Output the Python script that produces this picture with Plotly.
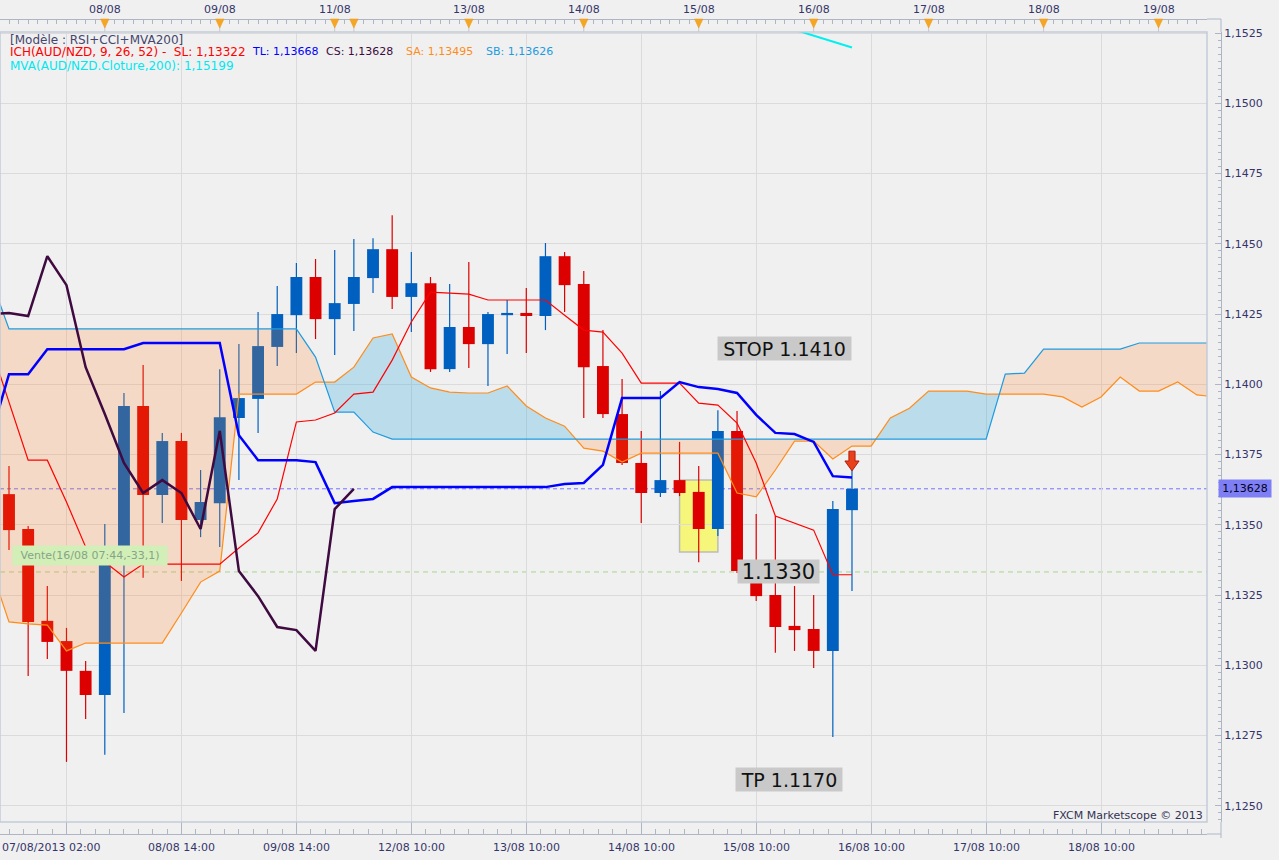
import plotly.graph_objects as go

# ---------------- data (AUD/NZD, 4h candles) ----------------
idx = list(range(45))
open_ = [1.13609, 1.13485, 1.13158, 1.13086, 1.12980, 1.12894, 1.13357, 1.13923, 1.13606, 1.13798,
         1.13517, 1.13577, 1.13880, 1.13948, 1.14133, 1.14246, 1.14382, 1.14232, 1.14286, 1.14378,
         1.14481, 1.14311, 1.14360, 1.14054, 1.14204, 1.14143, 1.14246, 1.14254, 1.14243, 1.14456,
         1.14357, 1.14065, 1.13894, 1.13720, 1.13613, 1.13659, 1.13617, 1.13485, 1.13834, 1.13335,
         1.13250, 1.13140, 1.13129, 1.13051, 1.13552]
high = [1.13709, 1.13496, 1.13282, 1.13133, 1.13015, 1.13503, 1.13969, 1.14069, 1.13827, 1.13827,
        1.13695, 1.14054, 1.14143, 1.14257, 1.14350, 1.14432, 1.14446, 1.14478, 1.14517, 1.14520,
        1.14602, 1.14471, 1.14382, 1.14357, 1.14435, 1.14257, 1.14300, 1.14343, 1.14503, 1.14471,
        1.14403, 1.14193, 1.14019, 1.13834, 1.13976, 1.13795, 1.13709, 1.13908, 1.13905, 1.13538,
        1.13531, 1.13282, 1.13250, 1.13585, 1.13698]
low = [1.13410, 1.12962, 1.13022, 1.12656, 1.12809, 1.12681, 1.12830, 1.13311, 1.13506, 1.13300,
       1.13456, 1.13421, 1.13659, 1.13827, 1.14065, 1.14111, 1.14161, 1.14104, 1.14190, 1.14325,
       1.14268, 1.14186, 1.14044, 1.14044, 1.14058, 1.13994, 1.14108, 1.14111, 1.14193, 1.14257,
       1.13880, 1.13880, 1.13713, 1.13506, 1.13599, 1.13602, 1.13367, 1.13460, 1.13328, 1.13229,
       1.13044, 1.13051, 1.12990, 1.12745, 1.13264]
close = [1.13481, 1.13154, 1.13083, 1.12980, 1.12894, 1.13357, 1.13923, 1.13606, 1.13798, 1.13517,
         1.13581, 1.13883, 1.13951, 1.14136, 1.14250, 1.14382, 1.14232, 1.14289, 1.14382, 1.14481,
         1.14311, 1.14360, 1.14054, 1.14204, 1.14143, 1.14250, 1.14254, 1.14243, 1.14456, 1.14353,
         1.14061, 1.13894, 1.13720, 1.13613, 1.13659, 1.13613, 1.13485, 1.13834, 1.13335, 1.13246,
         1.13136, 1.13125, 1.13051, 1.13556, 1.13628]

# Ichimoku lines
line_x = list(range(-1, 45))
tenkan = [1.13802, 1.14036, 1.14036, 1.14125, 1.14125, 1.14125, 1.14125, 1.14125, 1.14147, 1.14147,
          1.14147, 1.14147, 1.14147, 1.13819, 1.13730, 1.13730, 1.13730, 1.13723, 1.13577, 1.13585,
          1.13592, 1.13634, 1.13634, 1.13634, 1.13634, 1.13634, 1.13634, 1.13634, 1.13634, 1.13634,
          1.13645, 1.13649, 1.13713, 1.13951, 1.13951, 1.13951, 1.14008, 1.13990, 1.13983, 1.13969,
          1.13891, 1.13827, 1.13823, 1.13795, 1.13673, 1.13668]
kijun = [1.14143, 1.13937, 1.13730, 1.13730, 1.13581, 1.13421, 1.13367, 1.13314, 1.13360, 1.13360,
         1.13360, 1.13360, 1.13360, 1.13417, 1.13471, 1.13592, 1.13866, 1.13873, 1.13898, 1.13965,
         1.13972, 1.14086, 1.14222, 1.14328, 1.14325, 1.14321, 1.14300, 1.14300, 1.14300, 1.14300,
         1.14246, 1.14193, 1.14186, 1.14111, 1.14004, 1.14004, 1.14004, 1.13933, 1.13926, 1.13862,
         1.13720, 1.13531, 1.13506, 1.13481, 1.13322, 1.13322]

span_x = list(range(-1, 64))
senkou_a = [1.13357, 1.13154, 1.13147, 1.13143, 1.13051, 1.13079, 1.13079, 1.13079, 1.13079, 1.13079,
            1.13186, 1.13296, 1.13335, 1.13965, 1.13965, 1.13965, 1.13965, 1.14008, 1.14008, 1.14061,
            1.14165, 1.14179, 1.14026, 1.13987, 1.13972, 1.13969, 1.13969, 1.13994, 1.13923, 1.13880,
            1.13851, 1.13773, 1.13762, 1.13723, 1.13755, 1.13755, 1.13755, 1.13755, 1.13755, 1.13613,
            1.13599, 1.13695, 1.13798, 1.13798, 1.13734, 1.13780, 1.13780, 1.13880, 1.13915, 1.13976,
            1.13976, 1.13976, 1.13965, 1.13965, 1.13965, 1.13965, 1.13955, 1.13919, 1.13955, 1.14026,
            1.13976, 1.13976, 1.14008, 1.13962, 1.13955]
senkou_b = [1.14385] + [1.14197] * 16 + [1.14097, 1.13901, 1.13901, 1.13830] + [1.13805] * 32 + \
           [1.14036, 1.14040] + [1.14125] * 5 + [1.14147] * 5

chikou_x = list(range(-1, 19))
chikou = [1.14250, 1.14254, 1.14243, 1.14456, 1.14353, 1.14061, 1.13894, 1.13720, 1.13613, 1.13659,
          1.13613, 1.13485, 1.13834, 1.13335, 1.13246, 1.13136, 1.13125, 1.13051, 1.13556, 1.13628]

mva_x = [40, 41, 42, 43, 44]
mva200 = [1.15283, 1.15262, 1.15241, 1.15220, 1.15199]

last_price = 1.13628
entry_price = 1.13332

bottom_tick_idx = [3, 9, 15, 21, 27, 33, 39, 45, 51, 57]
bottom_labels = ["07/08/2013 02:00", "08/08 14:00", "09/08 14:00", "12/08 10:00", "13/08 10:00",
                 "14/08 10:00", "15/08 10:00", "16/08 10:00", "17/08 10:00", "18/08 10:00"]
top_label_idx = [5, 11, 17, 24, 30, 36, 42, 48, 54, 60]
top_labels = ["08/08", "09/08", "11/08", "13/08", "14/08", "15/08", "16/08", "17/08", "18/08", "19/08"]
marker_idx = [5, 11, 17, 18, 24, 30, 36, 42, 48, 54, 60]

# ---------------- styling ----------------
BG = "#f0f0f0"
GRID = "#dbdbdb"
AXC = "#aeb6c6"
TXT = "#35356a"
UP = "#0060c0"
DN = "#dd0000"
FONT = "DejaVu Sans"

W, H = 1279, 860
ML, MR, MT, MB = 0, 58, 19, 26
PW = W - ML - MR           # 1221
PH = H - MT - MB           # 815


def pxx(p):   # pixel x -> paper x
    return (p - ML) / PW


def pxy(p):   # pixel y -> paper y
    return (H - MB - p) / PH


fig = go.Figure()

# candle bodies
up = [i for i in idx if close[i] >= open_[i]]
dn = [i for i in idx if close[i] < open_[i]]
fig.add_trace(go.Bar(x=up, y=[close[i] - open_[i] for i in up], base=[open_[i] for i in up],
                     width=0.62, marker=dict(color=UP, line=dict(width=0)), hoverinfo="skip"))
fig.add_trace(go.Bar(x=dn, y=[open_[i] - close[i] for i in dn], base=[close[i] for i in dn],
                     width=0.62, marker=dict(color=DN, line=dict(width=0)), hoverinfo="skip"))

# wicks
for sel, col in ((up, UP), (dn, DN)):
    wx, wy = [], []
    for i in sel:
        wx += [i, i, None]
        wy += [low[i], high[i], None]
    fig.add_trace(go.Scatter(x=wx, y=wy, mode="lines", line=dict(color=col, width=1.2),
                             hoverinfo="skip"))


# cloud fills (split at crossings)
def cloud_runs(xs, a, b):
    runs = []
    rx, ra, rb = [xs[0]], [a[0]], [b[0]]
    s = (a[0] > b[0]) - (a[0] < b[0])
    for k in range(len(xs) - 1):
        d0 = a[k] - b[k]
        d1 = a[k + 1] - b[k + 1]
        s1 = (d1 > 0) - (d1 < 0)
        if s != 0 and s1 != 0 and s1 != s:
            t = d0 / (d0 - d1)
            xc = xs[k] + t * (xs[k + 1] - xs[k])
            yc = a[k] + t * (a[k + 1] - a[k])
            rx.append(xc); ra.append(yc); rb.append(yc)
            runs.append((rx, ra, rb, s))
            rx, ra, rb = [xc], [yc], [yc]
            s = s1
        elif s == 0:
            s = s1
        rx.append(xs[k + 1]); ra.append(a[k + 1]); rb.append(b[k + 1])
    runs.append((rx, ra, rb, s))
    return runs


bx, by, qx, qy = [], [], [], []
for rx, ra, rb, s in cloud_runs(span_x, senkou_a, senkou_b):
    polx = rx + rx[::-1] + [None]
    poly = ra + rb[::-1] + [None]
    if s > 0:
        bx += polx; by += poly
    else:
        qx += polx; qy += poly
fig.add_trace(go.Scatter(x=qx, y=qy, fill="toself", fillcolor="rgba(255,126,32,0.2)",
                         mode="lines", line=dict(width=0), hoverinfo="skip"))
fig.add_trace(go.Scatter(x=bx, y=by, fill="toself", fillcolor="rgba(0,150,220,0.22)",
                         mode="lines", line=dict(width=0), hoverinfo="skip"))

fig.add_trace(go.Scatter(x=span_x, y=senkou_a, mode="lines", line=dict(color="#ff8c1a", width=1.2),
                         hoverinfo="skip"))
fig.add_trace(go.Scatter(x=span_x, y=senkou_b, mode="lines", line=dict(color="#1e9be0", width=1.2),
                         hoverinfo="skip"))
fig.add_trace(go.Scatter(x=line_x, y=kijun, mode="lines", line=dict(color="#ff0000", width=1.2),
                         hoverinfo="skip"))
fig.add_trace(go.Scatter(x=line_x, y=tenkan, mode="lines", line=dict(color="#0000ff", width=2.5),
                         hoverinfo="skip"))
fig.add_trace(go.Scatter(x=chikou_x, y=chikou, mode="lines", line=dict(color="#3e0a40", width=2.5),
                         hoverinfo="skip"))
fig.add_trace(go.Scatter(x=mva_x, y=mva200, mode="lines", line=dict(color="#00f0f0", width=2),
                         hoverinfo="skip"))

XR = [-0.47, 62.53]
YR = [1.12442, 1.15254]
XDOM = [0, (1207 - ML) / PW]
YDOM = [pxy(822), pxy(32)]

# dummy traces so overlay axes render
fig.add_trace(go.Scatter(x=[-5], y=[1.14], xaxis="x2", mode="markers", marker=dict(opacity=0),
                         hoverinfo="skip"))
fig.add_trace(go.Scatter(x=[-5], y=[1.14], xaxis="x3", mode="markers", marker=dict(opacity=0),
                         hoverinfo="skip"))

fig.update_layout(
    width=W, height=H,
    margin=dict(l=ML, r=MR, t=MT, b=MB),
    paper_bgcolor=BG, plot_bgcolor=BG,
    showlegend=False,
    barmode="overlay",
    separators=", ",
    font=dict(family=FONT, size=11, color=TXT),
    xaxis=dict(domain=XDOM, range=XR, tickmode="linear", tick0=3, dtick=6, showgrid=True,
               gridcolor=GRID, gridwidth=1, showticklabels=False, ticks="", zeroline=False,
               showline=False, fixedrange=True),
    xaxis2=dict(overlaying="x", range=XR, anchor="free", position=0, side="bottom",
                tickmode="linear", tick0=3, dtick=6, ticks="inside", ticklen=12, tickcolor=AXC,
                showline=True, linecolor=AXC, showgrid=False, showticklabels=False, zeroline=False,
                fixedrange=True,
                minor=dict(tick0=3, dtick=0.75, ticks="inside", ticklen=5, tickcolor=AXC,
                           showgrid=False)),
    xaxis3=dict(overlaying="x", range=XR, anchor="free", position=1, side="top",
                tickmode="linear", tick0=0, dtick=0.5, ticks="inside", ticklen=4, tickcolor=AXC,
                showline=True, linecolor=AXC, showgrid=False, showticklabels=False, zeroline=False,
                fixedrange=True),
    yaxis=dict(domain=YDOM, range=YR, side="right", anchor="free", position=1.0,
               tickmode="linear", tick0=1.1250, dtick=0.0025, tickformat=".4f",
               ticks="inside", ticklen=6, tickcolor=AXC, showline=True, linecolor=AXC,
               showgrid=True, gridcolor=GRID, zeroline=False, fixedrange=True,
               tickfont=dict(family=FONT, size=11, color=TXT),
               minor=dict(tick0=1.1250, dtick=0.00025, ticks="inside", ticklen=3,
                          tickcolor=AXC, showgrid=False)),
)

shapes = []
# yellow zone
shapes.append(dict(type="rect", xref="x", yref="y", x0=35, x1=37, y0=1.13403, y1=1.13659,
                   fillcolor="#f6f67a", line=dict(color="#bcbcbc", width=1.5), layer="below"))
# horizontal dashed lines
shapes.append(dict(type="line", xref="paper", yref="y", x0=XDOM[0], x1=XDOM[1], y0=last_price,
                   y1=last_price, line=dict(color="#7272ff", width=1, dash="4px,3px"),
                   layer="below"))
shapes.append(dict(type="line", xref="paper", yref="y", x0=XDOM[0], x1=XDOM[1], y0=entry_price,
                   y1=entry_price, line=dict(color="#a6d68c", width=1, dash="5px,4px"),
                   layer="below"))
# plot frame
shapes.append(dict(type="rect", xref="paper", yref="paper", x0=XDOM[0], x1=XDOM[1],
                   y0=YDOM[0], y1=YDOM[1], line=dict(color="#c3cbd8", width=1.5), layer="above"))
# axis extensions to the right-hand scale
shapes.append(dict(type="line", xref="paper", yref="paper", x0=XDOM[1], x1=1, y0=0, y1=0,
                   line=dict(color=AXC, width=1), layer="above"))
shapes.append(dict(type="line", xref="paper", yref="paper", x0=1, x1=1, y0=pxy(838), y1=YDOM[0],
                   line=dict(color=AXC, width=1), layer="above"))
shapes.append(dict(type="line", xref="paper", yref="paper", x0=XDOM[1], x1=1, y0=1, y1=1,
                   line=dict(color=AXC, width=1), layer="above"))
shapes.append(dict(type="line", xref="paper", yref="paper", x0=1, x1=1, y0=1, y1=YDOM[1],
                   line=dict(color=AXC, width=1), layer="above"))
# sell arrow above last candle
ax = 44
shapes.append(dict(type="path", xref="x", yref="y",
                   path=(f"M{ax-0.16},1.13762L{ax+0.16},1.13762L{ax+0.16},1.13727"
                         f"L{ax+0.37},1.13727L{ax},1.13692L{ax-0.37},1.13727"
                         f"L{ax-0.16},1.13727Z"),
                   fillcolor="#e8401a", line=dict(color="#b81a08", width=1), layer="above"))
# orange event markers on the top axis
for i in marker_idx:
    shapes.append(dict(type="line", xref="x", yref="paper", x0=i, x1=i, y0=pxy(27), y1=pxy(32),
                       line=dict(color="#c8c8c8", width=1), layer="above"))
    shapes.append(dict(type="path", xref="x", yref="paper",
                       path=f"M{i-0.22},{pxy(19)}L{i+0.22},{pxy(19)}L{i},{pxy(28)}Z",
                       fillcolor="#f5a623", line=dict(color="#e8961a", width=0.5), layer="above"))
fig.update_layout(shapes=shapes)

ann = []
# bottom time labels
for k, (i, t) in enumerate(zip(bottom_tick_idx, bottom_labels)):
    if k == 0:
        ann.append(dict(x=pxx(0), xref="paper", y=pxy(848), yref="paper", text=t, showarrow=False,
                        xanchor="left", yanchor="middle", font=dict(size=11, color=TXT)))
    else:
        ann.append(dict(x=i, xref="x", y=pxy(848), yref="paper", text=t, showarrow=False,
                        xanchor="center", yanchor="middle", font=dict(size=11, color=TXT)))
# top date labels
for i, t in zip(top_label_idx, top_labels):
    ann.append(dict(x=i, xref="x", y=pxy(9), yref="paper", text=t, showarrow=False,
                    xanchor="center", yanchor="middle", font=dict(size=11, color=TXT)))

# indicator legend
leg = [
    (8, 40, "[Modèle : RSI+CCI+MVA200]", "#45456e", 12),
    (8, 52, "ICH(AUD/NZD, 9, 26, 52) -\u00a0 SL: 1,13322", "#ff0000", 12),
    (250, 52, "TL: 1,13668", "#0000ff", 11),
    (324, 52, "CS: 1,13628", "#3e0a40", 11),
    (404, 52, "SA: 1,13495", "#ff8c1a", 11),
    (484, 52, "SB: 1,13626", "#1e9be0", 11),
    (8, 66, "MVA(AUD/NZD.Cloture,200): 1,15199", "#00e8f0", 12),
]
for x, y, t, c, fs in leg:
    ann.append(dict(x=pxx(x), xref="paper", y=pxy(y), yref="paper", text=t, showarrow=False,
                    xanchor="left", yanchor="middle", font=dict(size=fs, color=c)))

# price tag on right axis
ann.append(dict(x=pxx(1218), xref="paper", y=last_price, yref="y", text="1,13628", showarrow=False,
                xanchor="left", yanchor="middle", bgcolor="#7f7ff5", borderpad=1,
                width=50, height=15, font=dict(size=11, color="#000020")))

# order labels
for xi, yv, t, w, fs in [(40.50, 1.14129, "STOP 1.1410", 131, 19),
                         (40.14, 1.13335, "1.1330", 79, 21),
                         (40.71, 1.12595, "TP 1.1170", 104, 19)]:
    ann.append(dict(x=xi, xref="x", y=yv, yref="y", text=t, showarrow=False,
                    xanchor="center", yanchor="middle", bgcolor="#c9c9c9", borderpad=1,
                    width=w, height=21, font=dict(size=fs, color="#111111")))

ann.append(dict(x=pxx(90), xref="paper", y=1.13389, yref="y", text="Vente(16/08 07:44,-33,1)",
                showarrow=False, xanchor="center", yanchor="middle", bgcolor="#d2efb8",
                borderpad=1, width=152, height=17, font=dict(size=11, color="#86a486")))

ann.append(dict(x=pxx(1205), xref="paper", y=pxy(815), yref="paper", text="FXCM Marketscope © 2013",
                showarrow=False, xanchor="right", yanchor="middle", font=dict(size=11, color="#333355")))

fig.update_layout(annotations=ann)

fig.write_html("out.html", config={"displayModeBar": False},
               post_script="document.body.style.margin='0px';")
